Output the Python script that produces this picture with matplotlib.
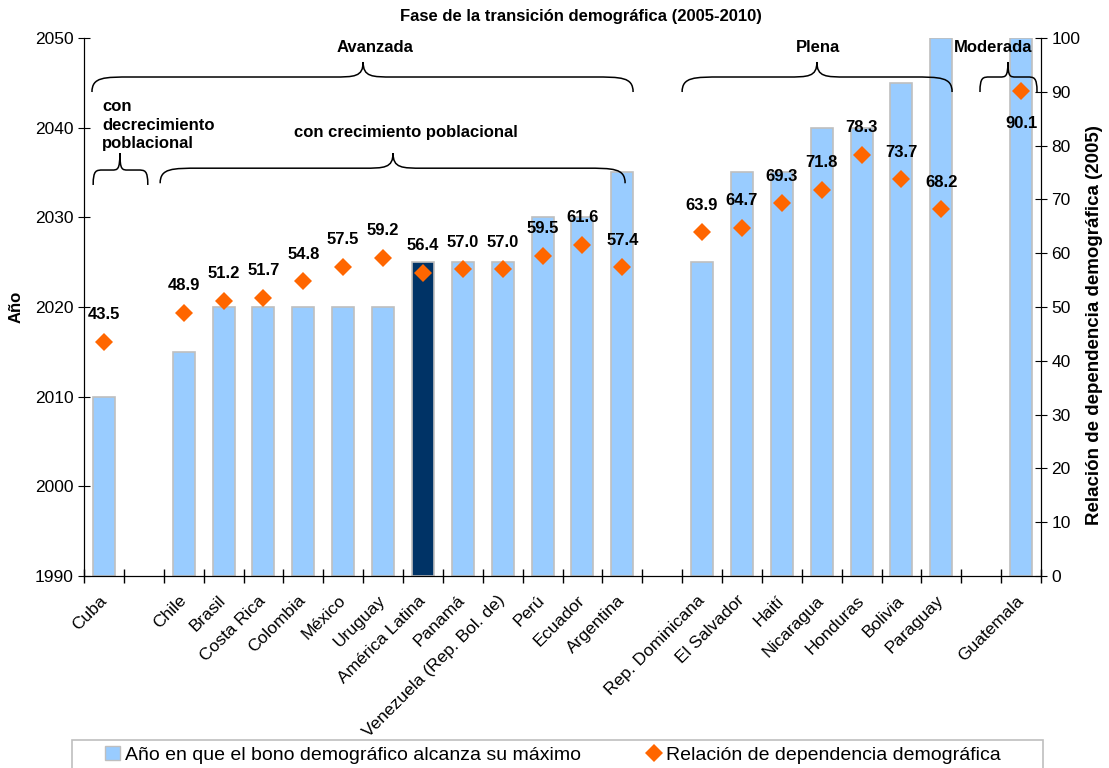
import matplotlib
matplotlib.use("Agg")
import matplotlib.pyplot as plt
import numpy as np
from matplotlib.path import Path
from matplotlib.patches import PathPatch, Rectangle
import matplotlib.patches as mpatches
from matplotlib.lines import Line2D
from matplotlib.transforms import blended_transform_factory, ScaledTranslation

plt.rcParams['font.family'] = ['Liberation Sans', 'DejaVu Sans']

# '' = empty slot between groups
paises = ["Cuba", "", "Chile", "Brasil", "Costa Rica", "Colombia", "México", "Uruguay",
          "América Latina", "Panamá", "Venezuela (Rep. Bol. de)", "Perú", "Ecuador",
          "Argentina", "", "Rep. Dominicana", "El Salvador", "Haití", "Nicaragua",
          "Honduras", "Bolivia", "Paraguay", "", "Guatemala"]
anio_max = [2010, np.nan, 2015, 2020, 2020, 2020, 2020, 2020, 2025, 2025, 2025, 2030, 2030,
            2035, np.nan, 2025, 2035, 2035, 2040, 2040, 2045, 2050, np.nan, 2050]
dependencia = [43.5, np.nan, 48.9, 51.2, 51.7, 54.8, 57.5, 59.2, 56.4, 57.0, 57.0, 59.5, 61.6,
               57.4, np.nan, 63.9, 64.7, 69.3, 71.8, 78.3, 73.7, 68.2, np.nan, 90.1]
destacado = "América Latina"

c_bar = "#99CCFF"
c_dark = "#003366"
c_dia = "#FF6600"
c_edge = "#BFBFBF"

fig = plt.figure(figsize=(11.09, 7.68), dpi=100)
ax = fig.add_axes([84/1109, 0.25, 957/1109, 538/768])
ax2 = ax.twinx()

x = np.arange(len(paises))
anios = np.array(anio_max, dtype=float)
colores = [c_dark if p == destacado else c_bar for p in paises]
ax.bar(x, anios - 1990, bottom=1990, width=0.55, color=colores, edgecolor=c_edge, linewidth=1.2)

ax.set_xlim(-0.5, len(paises) - 0.5)
ax.set_ylim(1990, 2050)
ax.set_yticks(range(1990, 2051, 10))
ax.set_xticks(np.arange(-0.5, len(paises), 1))
ax.set_xticklabels([])
ax.set_xticks(x, minor=True)
ax.set_xticklabels(paises, minor=True, rotation=45, ha="right", va="center",
                   rotation_mode="anchor", fontsize=12.5)
shift = ScaledTranslation(-6/72, 0, fig.dpi_scale_trans)
for lab in ax.get_xticklabels(minor=True):
    lab.set_transform(lab.get_transform() + shift)
ax.tick_params(axis="x", which="major", direction="inout", length=10, width=1)
ax.tick_params(axis="x", which="minor", length=0, pad=16)
ax.tick_params(axis="y", direction="inout", length=9, labelsize=12.5, pad=3)
ax.spines["top"].set_visible(False)
ax.set_ylabel("Año", fontweight="bold", fontsize=12)
ax.yaxis.set_label_coords(-0.063, 0.5)

dep = np.array(dependencia, dtype=float)
ax2.plot(x, dep, linestyle="none", marker="D", markersize=9.5, color=c_dia, markeredgewidth=0)
ax2.set_ylim(0, 100)
ax2.set_yticks(range(0, 101, 10))
ax2.tick_params(axis="y", direction="inout", length=9, labelsize=12.5, pad=3)
ax2.spines["top"].set_visible(False)
ax2.set_ylabel("Relación de dependencia demográfica (2005)", fontweight="bold", fontsize=13.5)
ax2.yaxis.set_label_coords(1.047, 0.4665)

for xi, v in zip(x, dep):
    if np.isnan(v):
        continue
    off = -23 if v > 85 else 19.5
    ax2.annotate(f"{v:.1f}", (xi, v), xytext=(0, off), textcoords="offset points",
                 ha="center", va="center", fontsize=12, fontweight="bold")


def llave(a, x0, x1, xm, yb, yl, yt, r, rt):
    tr = blended_transform_factory(a.transData, a.transAxes)
    verts = [(x0, yb), (x0, yl), (x0 + r*0.3, yl), (x0 + r, yl),
             (xm - rt, yl),
             (xm - rt*0.3, yl), (xm, yl), (xm, yt),
             (xm, yl), (xm + rt*0.3, yl), (xm + rt, yl),
             (x1 - r, yl),
             (x1 - r*0.3, yl), (x1, yl), (x1, yb)]
    codes = [Path.MOVETO, Path.CURVE4, Path.CURVE4, Path.CURVE4, Path.LINETO,
             Path.CURVE4, Path.CURVE4, Path.CURVE4, Path.CURVE4, Path.CURVE4, Path.CURVE4,
             Path.LINETO, Path.CURVE4, Path.CURVE4, Path.CURVE4]
    a.add_patch(PathPatch(Path(verts, codes), facecolor="none", edgecolor="black",
                          linewidth=1.1, transform=tr, clip_on=False))


trb = blended_transform_factory(ax2.transData, ax2.transAxes)
llave(ax2, -0.3, 13.27, 6.5, 0.8996, 0.9275, 0.9554, 1.0, 0.75)
llave(ax2, 14.5, 21.27, 17.88, 0.8996, 0.9275, 0.9554, 1.0, 0.75)
llave(ax2, 21.97, 23.4, 22.67, 0.8996, 0.9275, 0.9554, 0.25, 0.2)
llave(ax2, -0.27, 1.1, 0.4, 0.7268, 0.7546, 0.786, 0.25, 0.2)
llave(ax2, 1.41, 13.07, 7.25, 0.730, 0.758, 0.786, 1.0, 0.75)

kw = dict(transform=trb, fontsize=12, fontweight="bold", va="center")
ax2.text(6.8, 0.983, "Avanzada", ha="center", **kw)
ax2.text(17.9, 0.983, "Plena", ha="center", **kw)
ax2.text(22.3, 0.983, "Moderada", ha="center", **kw)
ax2.text(7.56, 0.825, "con crecimiento poblacional", ha="center", **kw)
ax2.text(-0.05, 0.838, "con\ndecrecimiento\npoblacional", ha="left", linespacing=1.3, **kw)

fig.text(581/1109, 1 - 17/768, "Fase de la transición demográfica (2005-2010)",
         ha="center", va="center", fontsize=12, fontweight="bold")

# legend frame runs off the bottom edge like in the original
fig.patches.append(Rectangle((72/1109, -0.02), 971/1109, 0.02 + 28/768, transform=fig.transFigure,
                             facecolor="white", edgecolor=c_edge, linewidth=1.2, zorder=0))
h1 = mpatches.Patch(facecolor=c_bar, edgecolor=c_edge)
h2 = Line2D([], [], linestyle="none", marker="D", markersize=9.5, color=c_dia, markeredgewidth=0)
leg = fig.legend([h1, h2], ["Año en que el bono demográfico alcanza su máximo",
                            "Relación de dependencia demográfica"],
                 loc="center", bbox_to_anchor=(553/1109, 1 - 755/768),
                 ncol=2, fontsize=14, frameon=False, columnspacing=3.4,
                 handlelength=0.75, handleheight=0.75, handletextpad=0.25, borderpad=0.0)

fig.savefig("out.png", dpi=100)
